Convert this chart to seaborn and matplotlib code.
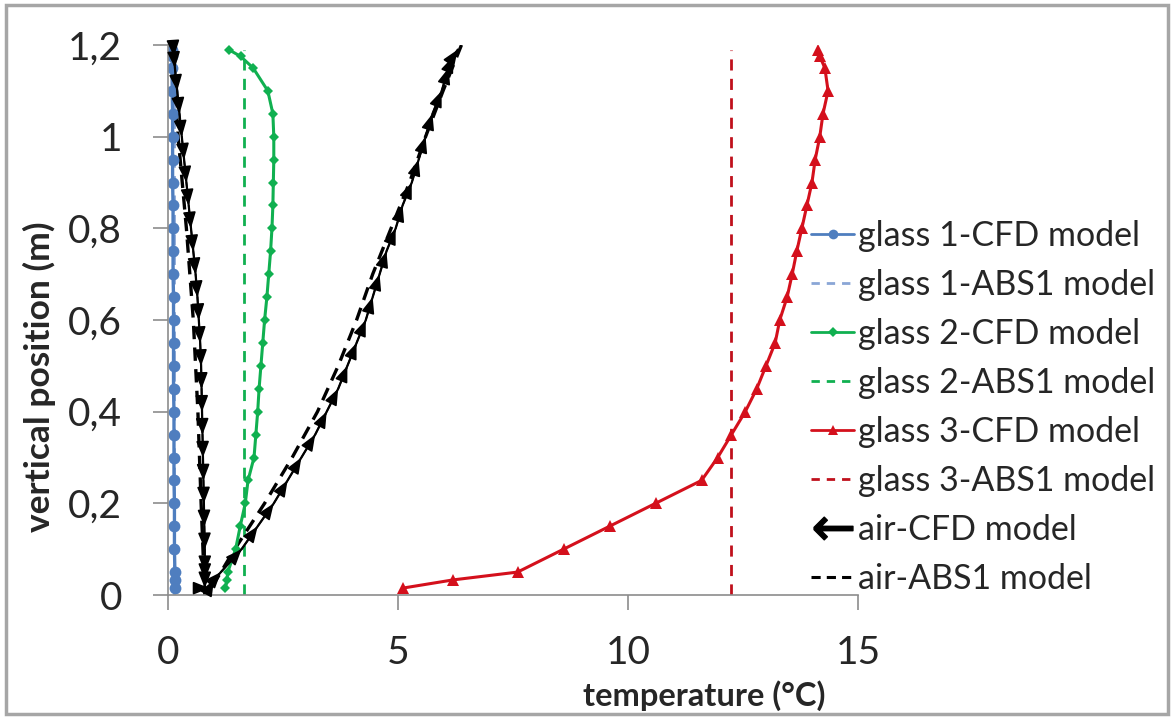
import matplotlib
matplotlib.use("Agg")
import matplotlib.pyplot as plt
import seaborn as sns
from matplotlib.lines import Line2D
from matplotlib.patches import Rectangle

# --- data ---
y_pos = [0.015, 0.033, 0.05, 0.1, 0.15, 0.2, 0.25, 0.3, 0.35, 0.4, 0.45, 0.5,
         0.55, 0.6, 0.65, 0.7, 0.75, 0.8, 0.85, 0.9, 0.95, 1.0, 1.05, 1.1,
         1.15, 1.175, 1.19]

glass1_cfd = [0.16, 0.16, 0.15, 0.14, 0.14, 0.14, 0.13, 0.13, 0.13, 0.13, 0.12,
              0.12, 0.12, 0.12, 0.12, 0.11, 0.11, 0.11, 0.11, 0.1, 0.1, 0.1,
              0.1, 0.09, 0.09, 0.09, 0.08]
glass2_cfd = [1.25, 1.28, 1.3, 1.47, 1.57, 1.68, 1.74, 1.87, 1.91, 1.95, 1.98,
              2.02, 2.06, 2.1, 2.15, 2.19, 2.23, 2.26, 2.28, 2.29, 2.3, 2.3,
              2.28, 2.17, 1.85, 1.58, 1.32]
glass3_cfd = [5.1, 6.2, 7.6, 8.6, 9.6, 10.6, 11.6, 11.95, 12.25, 12.55, 12.8,
              13.0, 13.2, 13.3, 13.46, 13.57, 13.67, 13.78, 13.89, 14.0, 14.07,
              14.17, 14.24, 14.35, 14.28, 14.17, 14.13]

abs1_y = [0.0, 1.19]
glass1_abs1 = [0.12, 0.12]
glass2_abs1 = [1.65, 1.65]
glass3_abs1 = [12.24, 12.24]

# air CFD: cold side (going down), listed with y_pos from bottom to top
air_cfd_down = [0.8, 0.8, 0.8, 0.8, 0.79, 0.78, 0.77, 0.76, 0.75, 0.74, 0.73,
                0.72, 0.7, 0.67, 0.64, 0.6, 0.55, 0.5, 0.45, 0.4, 0.35, 0.3,
                0.25, 0.2, 0.15, 0.13, 0.12]
# air CFD: warm side (going up), listed with y_pos from bottom to top
air_cfd_up = [0.9, 1.0, 1.15, 1.6, 1.95, 2.3, 2.6, 2.9, 3.2, 3.45, 3.7, 3.9,
              4.1, 4.3, 4.45, 4.6, 4.75, 4.95, 5.1, 5.3, 5.45, 5.6, 5.75, 5.95,
              6.1, 6.2, 6.3]

air_abs1_y = [1.2, 1.0, 0.8, 0.6, 0.4, 0.2, 0.05, 0.0, 0.0, 0.1, 0.2, 0.3, 0.4,
              0.5, 0.6, 0.7, 0.8, 0.9, 1.0, 1.1, 1.2]
air_abs1 = [0.1, 0.22, 0.4, 0.55, 0.65, 0.72, 0.78, 0.8, 0.85, 1.45, 2.1, 2.7,
            3.25, 3.7, 4.1, 4.45, 4.85, 5.25, 5.6, 5.98, 6.38]

y_ticks = [0, 0.2, 0.4, 0.6, 0.8, 1.0, 1.2]
y_tick_labels = ["0", "0,2", "0,4", "0,6", "0,8", "1", "1,2"]
x_ticks = [0, 5, 10, 15]

labels = ["glass 1-CFD model", "glass 1-ABS1 model", "glass 2-CFD model",
          "glass 2-ABS1 model", "glass 3-CFD model", "glass 3-ABS1 model",
          "air-CFD model", "air-ABS1 model"]

c_blue, c_lblue = "#4F7EBF", "#8AA6D6"
c_green = "#10B050"
c_red, c_dred = "#D4101C", "#C0101C"

sns.set_style("white")
plt.rcParams["font.family"] = ["Lato", "DejaVu Sans"]

fig = plt.figure(figsize=(11.74, 7.2), dpi=100)
ax = fig.add_axes([0.1431, 0.1736, 0.5877, 0.7639])

# air loop: down the cold side, then up the warm side
air_y = y_pos[::-1] + y_pos
air_x = air_cfd_down[::-1] + air_cfd_up

dash = (0, (4, 3))
# ABS1 dashed lines
sns.lineplot(x=glass1_abs1, y=abs1_y, sort=False, estimator=None, ax=ax,
             color=c_lblue, lw=2, linestyle=dash)
sns.lineplot(x=glass2_abs1, y=abs1_y, sort=False, estimator=None, ax=ax,
             color=c_green, lw=2, linestyle=dash)
sns.lineplot(x=glass3_abs1, y=abs1_y, sort=False, estimator=None, ax=ax,
             color=c_dred, lw=2, linestyle=dash)
sns.lineplot(x=air_abs1, y=air_abs1_y, sort=False, estimator=None, ax=ax,
             color="black", lw=2.4, linestyle=(0, (4, 2.5)))

# CFD lines
sns.lineplot(x=glass1_cfd, y=y_pos, sort=False, estimator=None, ax=ax,
             color=c_blue, lw=2.4, marker="o", markersize=8.5, markeredgewidth=0)
sns.lineplot(x=glass2_cfd, y=y_pos, sort=False, estimator=None, ax=ax,
             color=c_green, lw=2.2, marker="D", markersize=5.5, markeredgewidth=0)
sns.lineplot(x=glass3_cfd, y=y_pos, sort=False, estimator=None, ax=ax,
             color=c_red, lw=2.2, marker="^", markersize=8, markeredgewidth=0)
sns.lineplot(x=air_x, y=air_y, sort=False, estimator=None, ax=ax,
             color="black", lw=1.6)

# arrowheads along the air flow
for i in range(len(air_x) - 1):
    if air_x[i] == air_x[i + 1] and air_y[i] == air_y[i + 1]:
        continue
    ax.annotate("", xy=(air_x[i + 1], air_y[i + 1]), xytext=(air_x[i], air_y[i]),
                arrowprops=dict(arrowstyle="-|>,head_length=0.7,head_width=0.28",
                                color="black", lw=1.2, mutation_scale=14,
                                shrinkA=0, shrinkB=0))

ax.set_xlim(0, 15)
ax.set_ylim(0, 1.2)
ax.set_xticks(x_ticks)
ax.set_xticklabels([str(t) for t in x_ticks])
ax.set_yticks(y_ticks)
ax.set_yticklabels(y_tick_labels)
ax.tick_params(axis="both", which="major", labelsize=28, length=11, width=1.2,
               color="#8C8C8C", direction="out", bottom=True, left=True)
ax.tick_params(axis="y", pad=22)
ax.tick_params(axis="x", pad=18)
for s in ["top", "right"]:
    ax.spines[s].set_visible(False)
for s in ["left", "bottom"]:
    ax.spines[s].set_color("#8C8C8C")
    ax.spines[s].set_linewidth(1.2)

ax.set_xlabel("temperature (°C)", fontsize=23.5, fontweight="bold")
ax.set_ylabel("vertical position (m)", fontsize=25.5, fontweight="bold")
ax.xaxis.set_label_coords(0.777, -0.155)
ax.yaxis.set_label_coords(-0.163, 0.396)

# legend with hand-made handles
handles = [
    Line2D([], [], color=c_blue, lw=2, marker="o", markersize=7, markeredgewidth=0),
    Line2D([], [], color=c_lblue, lw=2, linestyle=(0, (3, 2.5))),
    Line2D([], [], color=c_green, lw=2, marker="D", markersize=5, markeredgewidth=0),
    Line2D([], [], color=c_green, lw=2, linestyle=(0, (3, 2.5))),
    Line2D([], [], color=c_red, lw=2, marker="^", markersize=7, markeredgewidth=0),
    Line2D([], [], color=c_dred, lw=2, linestyle=(0, (3, 2.5))),
    Line2D([], [], color="black", linestyle="none", marker=r"$\leftarrow$",
           markersize=28),
    Line2D([], [], color="black", lw=2.2, linestyle=(0, (3, 2))),
]
fig.legend(handles, labels, loc="upper left", bbox_to_anchor=(0.691, 0.695),
           frameon=False, fontsize=24.5, handlelength=1.27, handletextpad=0.1,
           labelspacing=0.5, borderaxespad=0, borderpad=0)

fig.patches.append(Rectangle((0.005, 0.008), 0.99, 0.985, transform=fig.transFigure,
                             fill=False, edgecolor="#A6A6A6", lw=2.5))

fig.savefig("out.png", dpi=100)
